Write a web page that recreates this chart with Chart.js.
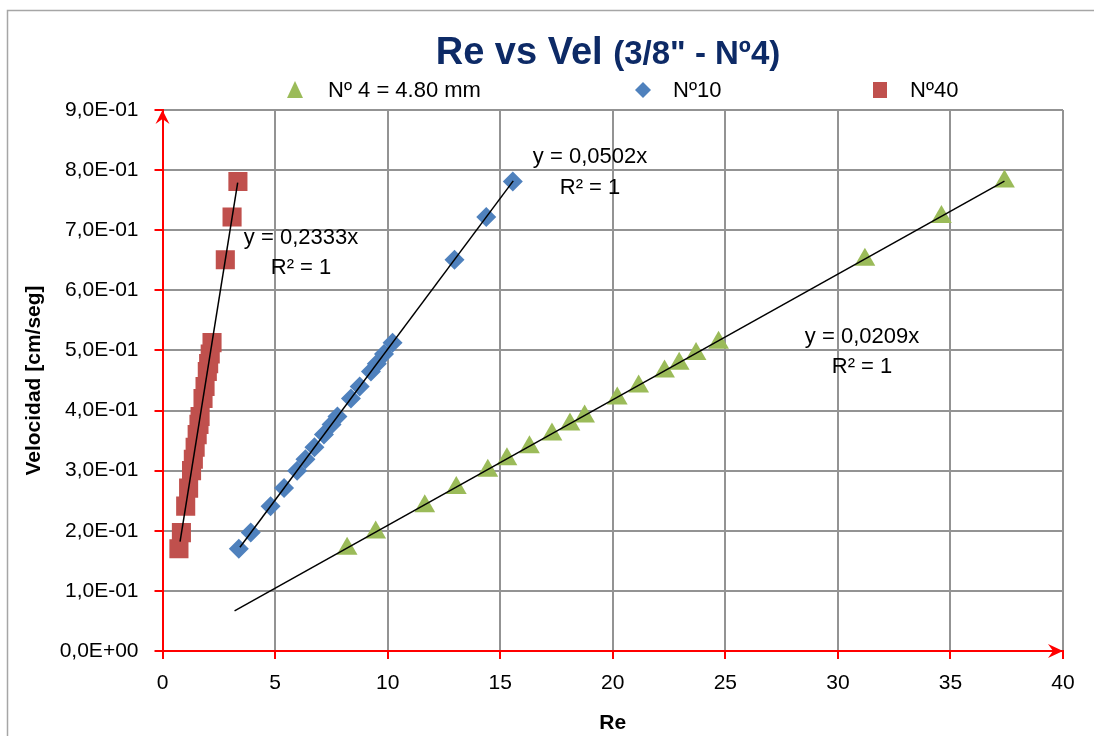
<!DOCTYPE html>
<html>
<head>
<meta charset="utf-8">
<script src="https://cdn.jsdelivr.net/npm/chart.js@4.4.0/dist/chart.umd.min.js"></script>
<style>
  html, body { margin: 0; padding: 0; background: #fff; }
  #wrap { width: 1094px; height: 736px; }
</style>
</head>
<body>
<div id="wrap"><canvas id="reChart" width="1094" height="736"></canvas></div>
<script>
// Velocity values (same for every sieve)
const velocity = [0.170, 0.197, 0.241, 0.271, 0.300, 0.319, 0.339, 0.360, 0.377, 0.390,
                  0.420, 0.440, 0.465, 0.478, 0.494, 0.513, 0.651, 0.722, 0.781];

// Reynolds numbers per sieve
const reN4  = [8.20, 9.47, 11.65, 13.05, 14.45, 15.30, 16.30, 17.30, 18.10, 18.75,
               20.20, 21.15, 22.30, 22.95, 23.70, 24.70, 31.20, 34.60, 37.40];
const reN10 = [3.39, 3.92, 4.80, 5.40, 5.98, 6.35, 6.75, 7.17, 7.51, 7.77,
               8.37, 8.76, 9.26, 9.52, 9.84, 10.22, 12.97, 14.38, 15.56];
const reN40 = [0.73, 0.84, 1.03, 1.16, 1.29, 1.37, 1.45, 1.54, 1.62, 1.67,
               1.80, 1.89, 1.99, 2.05, 2.12, 2.20, 2.79, 3.09, 3.35];

const seriesNames = ["Nº 4 = 4.80 mm", "Nº10", "Nº40"];

// Trendlines y = m x (from the chart)
const trendSlopes = [0.0209, 0.0502, 0.2333];
const trendRanges = [[3.2, 37.4], [3.44, 15.58], [0.78, 3.34]];
const trendLabels = [["y = 0,0209x", "R² = 1"], ["y = 0,0502x", "R² = 1"], ["y = 0,2333x", "R² = 1"]];

const xTicks = { min: 0, max: 40, step: 5 };
const yTicks = { min: 0, max: 0.9, step: 0.1 };

const FONT = "'Liberation Sans', Arial, sans-serif";

function pts(xs){ return xs.map((x,i)=>({x, y: velocity[i]})); }
function trendPts(i){ return trendRanges[i].map(x=>({x, y: trendSlopes[i]*x})); }

function sciLabel(v){
  if(Math.abs(v) < 1e-9) return "0,0E+00";
  const s = v.toExponential(1).split("e");
  const exp = parseInt(s[1],10);
  const e = (exp<0?"-":"+") + String(Math.abs(exp)).padStart(2,"0");
  return s[0].replace(".",",") + "E" + e;
}

function stealth(ctx, tipX, tipY, dir){
  // dir: 'up' or 'right'
  ctx.save();
  ctx.fillStyle = "#ff0000";
  ctx.beginPath();
  if(dir==="up"){
    ctx.moveTo(tipX, tipY);
    ctx.lineTo(tipX+7, tipY+14);
    ctx.lineTo(tipX, tipY+9);
    ctx.lineTo(tipX-7, tipY+14);
  } else {
    ctx.moveTo(tipX, tipY);
    ctx.lineTo(tipX-15, tipY+7);
    ctx.lineTo(tipX-10, tipY);
    ctx.lineTo(tipX-15, tipY-7);
  }
  ctx.closePath();
  ctx.fill();
  ctx.restore();
}

const decor = {
  id: "decor",
  beforeDraw(chart){
    const ctx = chart.ctx;
    ctx.save();
    ctx.fillStyle = "#fff";
    ctx.fillRect(0,0,chart.width,chart.height);
    ctx.strokeStyle = "#a6a6a6";
    ctx.lineWidth = 1.5;
    ctx.beginPath();
    ctx.moveTo(7.5, chart.height);
    ctx.lineTo(7.5, 10.5);
    ctx.lineTo(chart.width, 10.5);
    ctx.stroke();
    ctx.restore();
  },
  afterDraw(chart){
    const ctx = chart.ctx;
    const xs = chart.scales.x, ys = chart.scales.y;
    ctx.save();

    // title
    ctx.fillStyle = "#0d2a66";
    ctx.textBaseline = "alphabetic";
    ctx.font = "bold 38px " + FONT;
    const t1 = "Re vs Vel ";
    const w1 = ctx.measureText(t1).width;
    ctx.font = "bold 33px " + FONT;
    const t2 = "(3/8\" - Nº4)";
    const w2 = ctx.measureText(t2).width;
    let tx = 608 - (w1+w2)/2;
    ctx.font = "bold 38px " + FONT;
    ctx.fillText(t1, tx, 64);
    ctx.font = "bold 33px " + FONT;
    ctx.fillText(t2, tx + w1, 64);

    // legend
    const legendMarks = [295, 643, 880];
    const legendText = [328, 673, 910];
    const dsIdx = [3, 4, 5];
    ctx.font = "22px " + FONT;
    ctx.textBaseline = "middle";
    dsIdx.forEach((di,k)=>{
      const ds = chart.data.datasets[di];
      ctx.fillStyle = ds.backgroundColor;
      const cx = legendMarks[k], cy = 90;
      ctx.beginPath();
      if(ds.pointStyle==="triangle"){
        ctx.moveTo(cx, cy-9); ctx.lineTo(cx+8, cy+8); ctx.lineTo(cx-8, cy+8);
      } else if(ds.pointStyle==="rectRot"){
        ctx.moveTo(cx, cy-8); ctx.lineTo(cx+8, cy); ctx.lineTo(cx, cy+8); ctx.lineTo(cx-8, cy);
      } else {
        ctx.rect(cx-7, cy-8, 14, 16);
      }
      ctx.closePath();
      ctx.fill();
      ctx.fillStyle = "#000";
      ctx.textAlign = "left";
      ctx.fillText(seriesNames[k], legendText[k], cy+1);
    });

    // trendline labels
    const labelPos = [[862, 337, 862, 367], [590, 157, 590, 188], [301, 238, 301, 268]];
    ctx.font = "22px " + FONT;
    ctx.textAlign = "center";
    ctx.fillStyle = "#000";
    trendLabels.forEach((lab,i)=>{
      const p = labelPos[i];
      ctx.fillText(lab[0], p[0], p[1]);
      ctx.fillText(lab[1], p[2], p[3]);
    });

    // axis arrows
    stealth(ctx, xs.left, ys.top, "up");
    stealth(ctx, xs.right, ys.bottom, "right");
    ctx.restore();
  }
};

const ctx = document.getElementById("reChart").getContext("2d");
const chart = new Chart(ctx, {
  type: "scatter",
  data: {
    datasets: [
      { data: trendPts(0), showLine: true, borderColor: "#000", borderWidth: 1.5, pointRadius: 0, order: 0 },
      { data: trendPts(1), showLine: true, borderColor: "#000", borderWidth: 1.5, pointRadius: 0, order: 0 },
      { data: trendPts(2), showLine: true, borderColor: "#000", borderWidth: 1.5, pointRadius: 0, order: 0 },
      { label: seriesNames[0], data: pts(reN4), pointStyle: "triangle", pointRadius: 12,
        backgroundColor: "#9bbb59", borderColor: "#9bbb59", borderWidth: 0, order: 1 },
      { label: seriesNames[1], data: pts(reN10), pointStyle: "rectRot", pointRadius: 10,
        backgroundColor: "#4f81bd", borderColor: "#4f81bd", borderWidth: 0, order: 1 },
      { label: seriesNames[2], data: pts(reN40), pointStyle: "rect", pointRadius: 13.5,
        backgroundColor: "#c0504d", borderColor: "#c0504d", borderWidth: 0, order: 1 }
    ]
  },
  options: {
    responsive: false,
    animation: false,
    devicePixelRatio: 1,
    layout: { padding: { top: 110, right: 31, left: 8, bottom: 0 } },
    plugins: { legend: { display: false }, tooltip: { enabled: false }, title: { display: false } },
    scales: {
      x: {
        type: "linear",
        min: xTicks.min, max: xTicks.max,
        afterFit(scale){ scale.height = 85; },
        ticks: { stepSize: xTicks.step, color: "#000", font: { family: FONT, size: 21 }, padding: 12 },
        grid: { color: "#939393", lineWidth: 2, tickColor: "#ff0000", tickLength: 8, tickWidth: 2 },
        border: { color: "#ff0000", width: 2 },
        title: { display: true, text: "Re", color: "#000", font: { family: FONT, size: 21, weight: "bold" }, padding: 0 }
      },
      y: {
        type: "linear",
        min: yTicks.min, max: yTicks.max,
        afterFit(scale){ scale.width = 154.5; },
        ticks: { stepSize: yTicks.step, color: "#000", font: { family: FONT, size: 21 }, padding: 16,
                 callback: (v)=> sciLabel(v) },
        grid: { color: "#939393", lineWidth: 2, tickColor: "#ff0000", tickLength: 8, tickWidth: 2 },
        border: { color: "#ff0000", width: 2 },
        title: { display: true, text: "Velocidad [cm/seg]", color: "#000",
                 font: { family: FONT, size: 21, weight: "bold" }, padding: { top: 14, bottom: 0 } }
      }
    }
  },
  plugins: [decor]
});
</script>
</body>
</html>
